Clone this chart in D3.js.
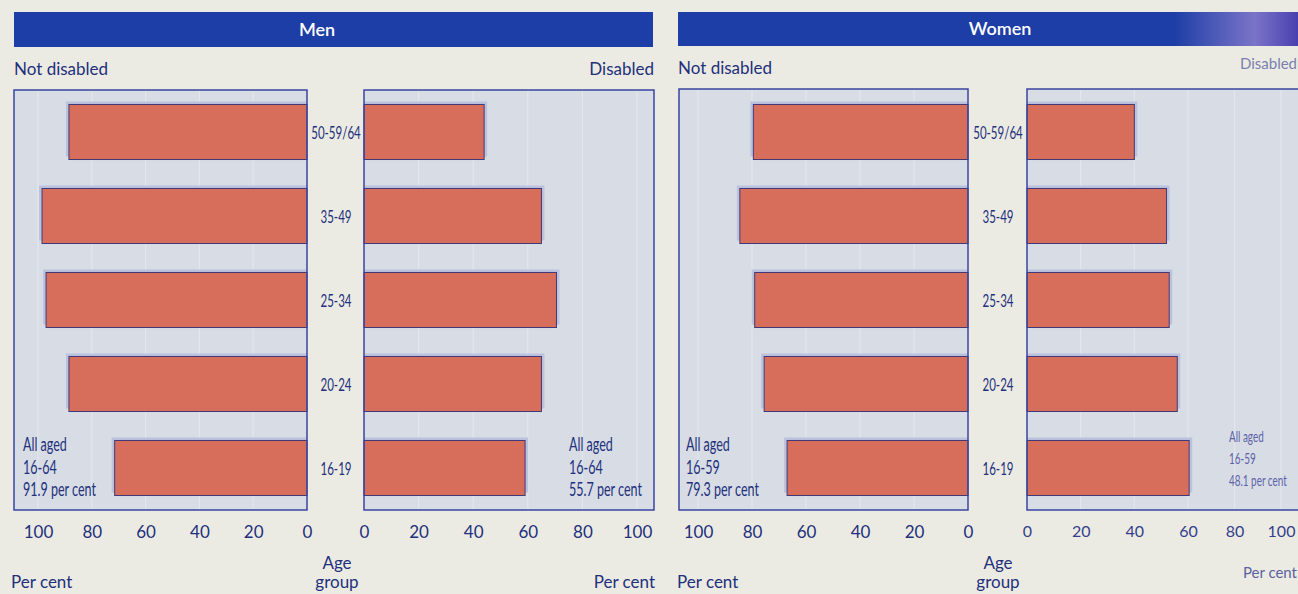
<!DOCTYPE html>
<html>
<head>
<meta charset="utf-8">
<script src="https://cdn.jsdelivr.net/npm/d3@7/dist/d3.min.js"></script>
<style>
  html, body { margin: 0; padding: 0; background: #ecebe3; }
  svg { display: block; }
  text { font-family: Lato, "Open Sans", sans-serif; }
</style>
</head>
<body>
<svg id="chart" width="1298" height="594"></svg>
<script>
// Age groups, top to bottom
const ageGroups = ["50-59/64", "35-49", "25-34", "20-24", "16-19"];

// Economic activity rates (per cent) by age group
const menNotDisabled   = [88.5, 98.5, 97.0, 88.5, 71.5];
const menDisabled      = [44.0, 65.0, 70.5, 65.0, 59.0];
const womenNotDisabled = [79.5, 84.5, 79.0, 75.5, 67.0];
const womenDisabled    = [40.0, 52.0, 53.0, 56.0, 60.5];

// Overall rates
const menAllLabel = ["All aged", "16-64"];
const womenAllLabel = ["All aged", "16-59"];
const menAll = { notDisabled: 91.9, disabled: 55.7 };
const womenAll = { notDisabled: 79.3, disabled: 48.1 };

const tickValues = [0, 20, 40, 60, 80, 100];

const C = {
  navy: "#22307c",
  header: "#1d3ea6",
  panel: "#d7dce5",
  grid: "#e3e7ed",
  bar: "#d76d5b",
  barEdge: "#3f3a78",
  shadow: "#bcc2dc"
};

const svg = d3.select("#chart");

// Gradient for the women header (sheen at the right end)
const defs = svg.append("defs");
const grad = defs.append("linearGradient").attr("id", "hdrW")
  .attr("x1", "0%").attr("x2", "100%");
grad.append("stop").attr("offset", "0%").attr("stop-color", C.header);
grad.append("stop").attr("offset", "80%").attr("stop-color", C.header);
grad.append("stop").attr("offset", "93%").attr("stop-color", "#7b74c8");
grad.append("stop").attr("offset", "100%").attr("stop-color", "#4a3fb0");

// Condensed text helper
function ctext(g, x, y, str, opts = {}) {
  return g.append("text")
    .attr("transform", `translate(${x},${y}) scale(${opts.sx || 0.7},1)`)
    .attr("font-size", opts.size || 17)
    .attr("fill", opts.fill || C.navy)
    .attr("text-anchor", opts.anchor || "start")
    .attr("dominant-baseline", opts.baseline || "auto")
    .text(str);
}

const yBand = d3.scaleBand().domain(ageGroups).range([90, 510])
  .paddingInner(0.345).paddingOuter(0.1725);

// Panel definitions: value domain/range stops and panel box
// (the last panel bends toward the page edge, so its scale is piecewise)
const panels = [
  { values: menNotDisabled,   dom: [0, 100],     rng: [307, 38],          left: 14,   right: 307,  top: 90, fs: 17, fill: C.navy },
  { values: menDisabled,      dom: [0, 100],     rng: [364, 637],         left: 364,  right: 654,  top: 90, fs: 17, fill: C.navy },
  { values: womenNotDisabled, dom: [0, 100],     rng: [968, 698],         left: 679,  right: 968,  top: 89, fs: 17, fill: C.navy },
  { values: womenDisabled,    dom: [0, 60, 100], rng: [1027, 1188, 1281], left: 1027, right: 1312, top: 89, fs: 16, fill: "#34408c" }
];
const bottom = 510;

panels.forEach(p => {
  const x = d3.scaleLinear().domain(p.dom).range(p.rng);
  const dir = x(100) > x(0) ? 1 : -1;
  const g = svg.append("g");

  g.append("rect")
    .attr("x", p.left).attr("y", p.top)
    .attr("width", p.right - p.left).attr("height", bottom - p.top)
    .attr("fill", C.panel);

  // vertical gridlines
  g.selectAll("line.grid").data(tickValues.filter(d => d > 0)).join("line")
    .attr("class", "grid")
    .attr("x1", d => x(d)).attr("x2", d => x(d))
    .attr("y1", p.top + 1).attr("y2", bottom - 1)
    .attr("stroke", C.grid).attr("stroke-width", 1.2);

  const rows = ageGroups.map((a, i) => ({ age: a, v: p.values[i] }));

  // soft shadow above and beyond the bar end
  g.selectAll("rect.shadow").data(rows).join("rect")
    .attr("class", "shadow")
    .attr("x", d => Math.min(x(0), x(d.v)) + (dir < 0 ? -3 : 0))
    .attr("y", d => yBand(d.age) - 3)
    .attr("width", d => Math.abs(x(d.v) - x(0)) + 3)
    .attr("height", yBand.bandwidth())
    .attr("fill", C.shadow);

  g.selectAll("rect.bar").data(rows).join("rect")
    .attr("class", "bar")
    .attr("x", d => Math.min(x(0), x(d.v)))
    .attr("y", d => yBand(d.age))
    .attr("width", d => Math.abs(x(d.v) - x(0)))
    .attr("height", yBand.bandwidth())
    .attr("fill", C.bar)
    .attr("stroke", C.barEdge).attr("stroke-width", 1);

  // panel border
  g.append("rect")
    .attr("x", p.left).attr("y", p.top)
    .attr("width", p.right - p.left).attr("height", bottom - p.top)
    .attr("fill", "none").attr("stroke", "#3a44a0").attr("stroke-width", 1.5);

  // axis
  const axis = d3.axisBottom(x).tickValues(tickValues).tickSize(0).tickPadding(3);
  const ag = svg.append("g").attr("transform", "translate(0,523)").call(axis);
  ag.select(".domain").remove();
  ag.selectAll("text")
    .attr("font-size", p.fs)
    .attr("font-family", "Lato, sans-serif")
    .attr("fill", p.fill);
});

// Headers
svg.append("rect").attr("x", 14).attr("y", 12).attr("width", 639).attr("height", 35).attr("fill", C.header);
svg.append("rect").attr("x", 678).attr("y", 12).attr("width", 620).attr("height", 34).attr("fill", "url(#hdrW)");
svg.append("text").attr("x", 317).attr("y", 36).attr("text-anchor", "middle")
  .attr("font-size", 18).attr("font-weight", 600).attr("fill", "#ffffff").text("Men");
svg.append("text").attr("x", 1000).attr("y", 35).attr("text-anchor", "middle")
  .attr("font-size", 18).attr("font-weight", 600).attr("fill", "#ffffff").text("Women");

// Side titles
function label(x, y, str, anchor, fill, size) {
  svg.append("text").attr("x", x).attr("y", y).attr("text-anchor", anchor || "start")
    .attr("font-size", size || 17).attr("fill", fill || C.navy).text(str);
}
label(14, 75, "Not disabled");
label(654, 75, "Disabled", "end");
label(678, 74, "Not disabled");
label(1297, 69, "Disabled", "end", "#7a7fb0", 15);

// Per cent labels
label(11, 588, "Per cent");
label(655, 588, "Per cent", "end");
label(677, 588, "Per cent");
label(1297, 578, "Per cent", "end", "#5a62a0", 15);

// Age group labels
[337, 998].forEach(cx => {
  label(cx, 569, "Age", "middle");
  label(cx, 588, "group", "middle");
});

// Age category labels between panels
[336, 998].forEach(cx => {
  ageGroups.forEach(a => {
    ctext(svg, cx, yBand(a) + yBand.bandwidth() / 2, a,
      { anchor: "middle", baseline: "central", size: 18, sx: 0.64 });
  });
});

// Overall rate annotations
function note(x, lines, value, size, fill, lh, y0, sx) {
  const all = lines.concat([d3.format(".1f")(value) + " per cent"]);
  all.forEach((s, i) => ctext(svg, x, y0 + i * lh, s, { size: size, fill: fill, sx: sx }));
}
note(23,   menAllLabel,   menAll.notDisabled,   19, C.navy, 22.5, 451, 0.66);
note(569,  menAllLabel,   menAll.disabled,      19, C.navy, 22.5, 451, 0.66);
note(686,  womenAllLabel, womenAll.notDisabled, 19, C.navy, 22.5, 451, 0.66);
note(1229, womenAllLabel, womenAll.disabled,    16, "#5d63a8", 22, 442, 0.62);
</script>
</body>
</html>
